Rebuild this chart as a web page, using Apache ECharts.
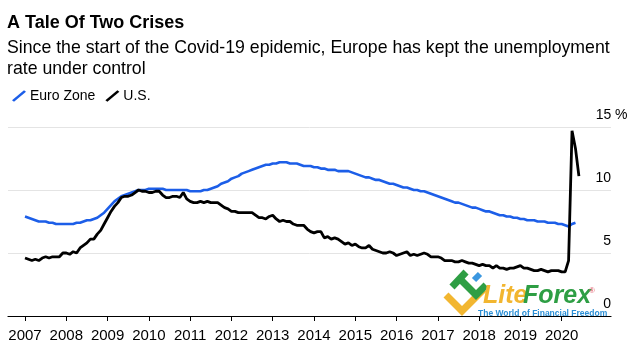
<!DOCTYPE html>
<html>
<head>
<meta charset="utf-8">
<script src="https://cdn.jsdelivr.net/npm/echarts@6/dist/echarts.min.js"></script>
<style>html,body{margin:0;padding:0;background:#fff}#c{width:637px;height:360px}</style>
</head>
<body>
<div id="c"></div>
<script>
// Monthly unemployment rate (%), first point = January of startYear
var startYear = 2007;
var euroZone = [
  7.9,7.8,7.7,7.6,7.5,7.5,7.5,7.4,7.4,7.3,7.3,7.3,
  7.3,7.3,7.3,7.4,7.4,7.5,7.6,7.6,7.7,7.8,8.0,8.2,
  8.5,8.8,9.1,9.3,9.5,9.6,9.7,9.8,9.9,10.0,10.0,10.0,
  10.1,10.1,10.1,10.1,10.1,10.0,10.0,10.0,10.0,10.0,10.0,10.0,
  9.9,9.9,9.9,9.9,10.0,10.0,10.1,10.2,10.3,10.5,10.6,10.7,
  10.9,11.0,11.1,11.3,11.4,11.5,11.6,11.7,11.8,11.9,12.0,12.0,
  12.1,12.1,12.2,12.2,12.2,12.1,12.1,12.1,12.0,11.9,11.9,11.9,
  11.8,11.8,11.7,11.7,11.6,11.6,11.6,11.5,11.5,11.5,11.5,11.4,
  11.3,11.2,11.1,11.0,11.0,10.9,10.8,10.8,10.7,10.6,10.5,10.5,
  10.4,10.3,10.2,10.2,10.1,10.0,10.0,9.9,9.9,9.8,9.7,9.6,
  9.5,9.4,9.3,9.2,9.1,9.0,9.0,8.9,8.8,8.7,8.6,8.6,
  8.5,8.4,8.3,8.3,8.2,8.1,8.0,8.0,7.9,7.9,7.8,7.8,
  7.7,7.7,7.6,7.6,7.6,7.5,7.5,7.5,7.4,7.4,7.4,7.3,
  7.3,7.2,7.1,7.3,7.4
];
var us = [
  4.6,4.5,4.4,4.5,4.4,4.6,4.7,4.6,4.7,4.7,4.7,5.0,
  5.0,4.9,5.1,5.0,5.4,5.6,5.8,6.1,6.1,6.5,6.8,7.3,
  7.8,8.3,8.7,9.0,9.4,9.5,9.5,9.6,9.8,10.0,9.9,9.9,
  9.8,9.8,9.9,9.9,9.6,9.4,9.4,9.5,9.5,9.4,9.8,9.3,
  9.1,9.0,9.0,9.1,9.0,9.1,9.0,9.0,9.0,8.8,8.6,8.5,
  8.3,8.3,8.2,8.2,8.2,8.2,8.2,8.0,7.8,7.8,7.7,7.9,
  8.0,7.7,7.5,7.6,7.5,7.5,7.3,7.2,7.2,7.2,6.9,6.7,
  6.6,6.7,6.7,6.2,6.3,6.1,6.2,6.1,5.9,5.7,5.8,5.6,
  5.7,5.5,5.4,5.4,5.6,5.3,5.2,5.1,5.0,5.0,5.1,5.0,
  4.8,4.9,5.0,5.1,4.8,4.9,4.8,4.9,5.0,4.9,4.7,4.7,
  4.7,4.6,4.4,4.4,4.4,4.3,4.3,4.4,4.3,4.2,4.2,4.1,
  4.0,4.1,4.0,4.0,3.8,4.0,3.8,3.8,3.7,3.8,3.8,3.9,
  4.0,3.8,3.8,3.7,3.6,3.6,3.7,3.6,3.5,3.6,3.6,3.6,
  3.5,3.5,4.4,14.7,13.3,11.1
];
var yearTicks = [2007,2008,2009,2010,2011,2012,2013,2014,2015,2016,2017,2018,2019,2020];
var yTicks = [0,5,10,15];
var seriesNames = ['Euro Zone','U.S.'];
var titleText = 'A Tale Of Two Crises';
var subtitleText = 'Since the start of the Covid-19 epidemic, Europe has kept the unemployment\nrate under control';

function toPoints(vals){
  return vals.map(function(v,i){ return [startYear + i/12, v]; });
}

var font = '"Liberation Sans", Arial, Helvetica, sans-serif';
var chart = echarts.init(document.getElementById('c'), null, {renderer:'canvas'});
var slash = 'path://M0,10 L12,0 L14,1.6 L2,11.6 Z';

chart.setOption({
  animation: false,
  backgroundColor: '#fff',
  textStyle: {fontFamily: font},
  title: [
    {text: titleText, left: 2, top: 9,
     textStyle: {fontFamily: font, fontSize: 18, fontWeight: 'bold', color: '#000'}},
    {text: subtitleText, left: 2, top: 33,
     textStyle: {fontFamily: font, fontSize: 17.7, fontWeight: 'normal', color: '#000', lineHeight: 21}}
  ],
  legend: {
    left: 7, top: 84, itemWidth: 14, itemHeight: 12, itemGap: 10,
    data: [
      {name: seriesNames[0], icon: slash},
      {name: seriesNames[1], icon: slash}
    ],
    textStyle: {fontFamily: font, fontSize: 14, color: '#000', padding: [0,0,0,-1]}
  },
  grid: {left: 8, right: 26, top: 127, bottom: 44, containLabel: false},
  xAxis: {
    type: 'value', min: 2006.588, max: 2021.194,
    splitLine: {show: false},
    axisLine: {lineStyle: {color: '#000', width: 1.2}},
    axisTick: {show: true, customValues: yearTicks, length: 5, lineStyle: {color: '#000', width: 1}},
    axisLabel: {customValues: yearTicks, fontFamily: font, fontSize: 15, color: '#000', margin: 12,
      formatter: function(v){ return String(Math.round(v)); }}
  },
  yAxis: {
    type: 'value', position: 'right', min: 0, max: 15, interval: 5,
    splitLine: {lineStyle: {color: '#e4e4e4', width: 1}},
    axisLine: {show: false}, axisTick: {show: false},
    axisLabel: {
      inside: false, margin: -15, align: 'left', verticalAlign: 'bottom', padding: [0,0,5,0],
      fontFamily: font, fontSize: 14, color: '#000',
      formatter: function(v){ return v === 15 ? '{n|' + v + '} %' : '{n|' + v + '}'; },
      rich: {n: {width: 15, align: 'right', fontFamily: font, fontSize: 14, color: '#000'}}
    }
  },
  series: [
    {name: seriesNames[0], type: 'line', data: toPoints(euroZone), showSymbol: false, symbol: 'none',
     lineStyle: {color: '#1c5ee8', width: 2.6}, itemStyle: {color: '#1c5ee8'}},
    {name: seriesNames[1], type: 'line', data: toPoints(us), showSymbol: false, symbol: 'none',
     lineStyle: {color: '#000', width: 2.8}, itemStyle: {color: '#000'}}
  ],
  graphic: [
    {type: 'polyline', shape: {points: [[446,295],[462,311],[484,289]]}, style: {stroke: '#f2b630', lineWidth: 7, fill: null}, silent: true},
    {type: 'polyline', shape: {points: [[452,287],[466,272]]}, style: {stroke: '#2e9e44', lineWidth: 7, fill: null}, silent: true},
    {type: 'polyline', shape: {points: [[460,279],[476,295],[486,285]]}, style: {stroke: '#2e9e44', lineWidth: 7, fill: null}, silent: true},
    {type: 'polyline', shape: {points: [[474,280],[480,274]]}, style: {stroke: '#3b97e0', lineWidth: 6, fill: null}, silent: true},
    {type: 'text', left: 483, top: 284, style: {text: 'Lite', fill: '#f2b630', font: 'italic bold 25px ' + font}, silent: true},
    {type: 'text', left: 523, top: 284, style: {text: 'Forex', fill: '#2e9e44', font: 'italic bold 25px ' + font}, silent: true},
    {type: 'text', left: 589, top: 287, style: {text: '\u00ae', fill: '#e05a6a', font: '8px ' + font}, silent: true},
    {type: 'text', left: 478, top: 309, style: {text: 'The World of Financial Freedom', fill: '#2b8fd6', font: 'bold 8.5px ' + font}, silent: true}
  ]
});
</script>
</body>
</html>
